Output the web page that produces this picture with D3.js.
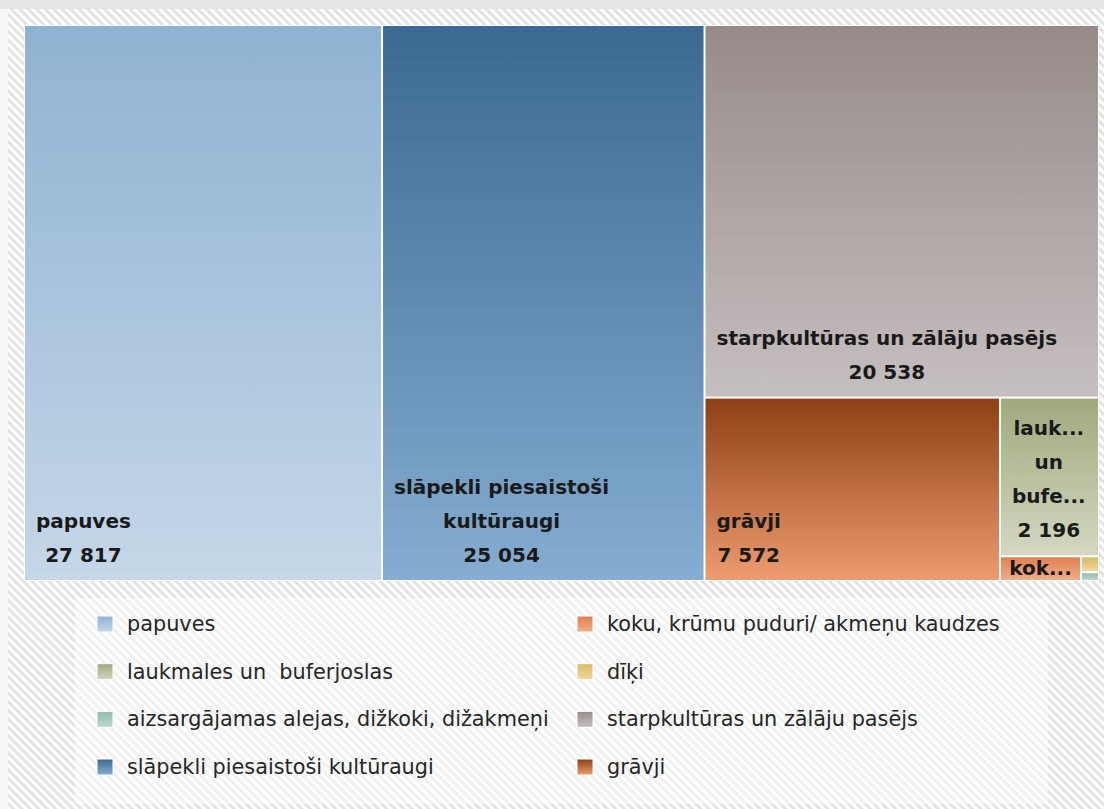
<!DOCTYPE html>
<html>
<head>
<meta charset="utf-8">
<script src="https://cdn.jsdelivr.net/npm/d3@7"></script>
<style>
  html, body { margin: 0; padding: 0; background: #ffffff; }
  svg { display: block; }
</style>
</head>
<body>
<svg id="chart" width="1104" height="809"></svg>
<script>
// Land-use categories (legend order) and their areas
const categories = [
  "papuves",
  "laukmales un  buferjoslas",
  "aizsargājamas alejas, dižkoki, dižakmeņi",
  "slāpekli piesaistoši kultūraugi",
  "koku, krūmu puduri/ akmeņu kaudzes",
  "dīķi",
  "starpkultūras un zālāju pasējs",
  "grāvji"
];
const values = [27817, 2196, 22, 25054, 280, 40, 20538, 7572];

// Gradient palette per category: top colour, bottom colour
const colorTop    = ["#8fb2d2", "#a0a97d", "#8fbcae", "#3c6991", "#e0804f", "#dbb965", "#968b89", "#8f3f15"];
const colorBottom = ["#c5d7e8", "#d3d8c2", "#bcd8cf", "#85add1", "#f0ad8a", "#eed9a2", "#c6bfbf", "#ec9c6e"];

const W = 1104, H = 809;
const svg = d3.select("#chart");
const defs = svg.append("defs");

// Diagonal hatch for the chart background
const hatch = defs.append("pattern")
  .attr("id", "hatch")
  .attr("patternUnits", "userSpaceOnUse")
  .attr("width", 6).attr("height", 6)
  .attr("patternTransform", "rotate(-45)");
hatch.append("rect").attr("width", 6).attr("height", 6).attr("fill", "#ffffff");
hatch.append("rect").attr("width", 3).attr("height", 6).attr("fill", "#e3e3e3");

// Vertical gradients for cells and legend swatches
categories.forEach((c, i) => {
  const g = defs.append("linearGradient")
    .attr("id", "grad" + i)
    .attr("x1", 0).attr("y1", 0).attr("x2", 0).attr("y2", 1);
  g.append("stop").attr("offset", "0%").attr("stop-color", colorTop[i]);
  g.append("stop").attr("offset", "100%").attr("stop-color", colorBottom[i]);
});

// Background
svg.append("rect").attr("width", W).attr("height", H).attr("fill", "#f6f6f6");
svg.append("rect").attr("width", W).attr("height", 9).attr("fill", "#e6e6e6");
svg.append("rect").attr("x", 8).attr("y", 9).attr("width", W - 8).attr("height", H - 9).attr("fill", "url(#hatch)");

// Treemap layout
const tmX = 24, tmY = 25, tmW = 1075, tmH = 556;
const root = d3.hierarchy({ children: categories.map((name, i) => ({ name, value: values[i], idx: i })) })
  .sum(d => d.value || 0)
  .sort((a, b) => b.value - a.value);

d3.treemap()
  .tile(d3.treemapSquarify.ratio(1))
  .size([tmW, tmH])
  .paddingInner(2)
  .paddingOuter(1)(root);

const tm = svg.append("g").attr("transform", `translate(${tmX},${tmY})`);
tm.append("rect").attr("width", tmW).attr("height", tmH).attr("fill", "#ffffff");

const leaves = root.leaves();
const cell = tm.selectAll("g.cell").data(leaves).join("g").attr("class", "cell");

cell.append("clipPath")
  .attr("id", d => "clip" + d.data.idx)
  .append("rect")
  .attr("x", d => d.x0).attr("y", d => d.y0)
  .attr("width", d => d.x1 - d.x0).attr("height", d => d.y1 - d.y0);

cell.append("rect")
  .attr("x", d => d.x0).attr("y", d => d.y0)
  .attr("width", d => d.x1 - d.x0).attr("height", d => d.y1 - d.y0)
  .attr("fill", d => `url(#grad${d.data.idx})`);

// Value formatting with space as thousands separator
const fmt = d3.formatLocale({ decimal: ",", thousands: " ", grouping: [3], currency: ["", ""] }).format(",d");

// Text measuring helper
const labelFont = "'DejaVu Sans', sans-serif";
const meas = svg.append("text")
  .attr("font-family", labelFont).attr("font-size", 20).attr("font-weight", "bold")
  .attr("visibility", "hidden");
const tw = s => { meas.text(s); return meas.node().getComputedTextLength(); };
const spaceW = tw("a a") - tw("aa");

// Keep a word whole if it fits the line, otherwise shorten it with an ellipsis
function fitWord(word, lineAvail, truncAvail) {
  if (tw(word) + spaceW <= lineAvail) return word;
  for (let n = word.length - 1; n > 0; n--) {
    const t = word.slice(0, n) + "...";
    if (tw(t) <= truncAvail) return t;
  }
  return "...";
}

// Greedy word wrap; a line must fit together with its trailing space
function wrapLabel(text, w) {
  const avail = w - 22;
  const words = text.split(/\s+/).filter(x => x.length);
  const lines = [];
  let cur = "";
  words.forEach(wd => {
    const cand = cur ? cur + " " + wd : wd;
    if (tw(cand) + spaceW <= avail) { cur = cand; }
    else {
      if (cur) lines.push(cur);
      cur = fitWord(wd, avail, w * 0.81);
    }
  });
  if (cur) lines.push(cur);
  return lines;
}

const lineH = 34;
cell.each(function (d) {
  const w = d.x1 - d.x0, h = d.y1 - d.y0;
  if (w < 30 || h < 14) return;
  const lines = wrapLabel(d.data.name, w);
  lines.push(fmt(d.data.value));
  const blockW = d3.max(lines, tw);
  const cx = blockW <= w - 22 ? d.x0 + 11 + blockW / 2 : d.x0 + w / 2;
  let firstBase = d.y1 - 18 - (lines.length - 1) * lineH;
  if (firstBase - 16 < d.y0) firstBase = d.y0 + 18;
  const t = d3.select(this).append("text")
    .attr("clip-path", `url(#clip${d.data.idx})`)
    .attr("font-family", labelFont).attr("font-size", 20).attr("font-weight", "bold")
    .attr("fill", "#1a1a1a").attr("text-anchor", "middle");
  lines.forEach((ln, k) => {
    t.append("tspan").attr("x", cx).attr("y", firstBase + k * lineH).text(ln);
  });
});
meas.remove();

// Legend
const legend = svg.append("g");
legend.append("rect")
  .attr("x", 75).attr("y", 598).attr("width", 973).attr("height", 206)
  .attr("fill", "#ffffff").attr("fill-opacity", 0.5);

const rowY = d3.scalePoint().domain(d3.range(4)).range([624, 767]);
const colX = [97, 577];
const item = legend.selectAll("g.item").data(categories).join("g")
  .attr("class", "item")
  .attr("transform", (d, i) => `translate(${colX[Math.floor(i / 4)]},${rowY(i % 4)})`);
item.append("rect")
  .attr("x", 0).attr("y", -8).attr("width", 16).attr("height", 16)
  .attr("fill", (d, i) => `url(#grad${i})`)
  .attr("stroke", "#ffffff").attr("stroke-width", 1);
item.append("text")
  .attr("x", 30).attr("y", 7)
  .attr("font-family", labelFont).attr("font-size", 20.8)
  .attr("fill", "#262626")
  .style("white-space", "pre")
  .text(d => d);
</script>
</body>
</html>
